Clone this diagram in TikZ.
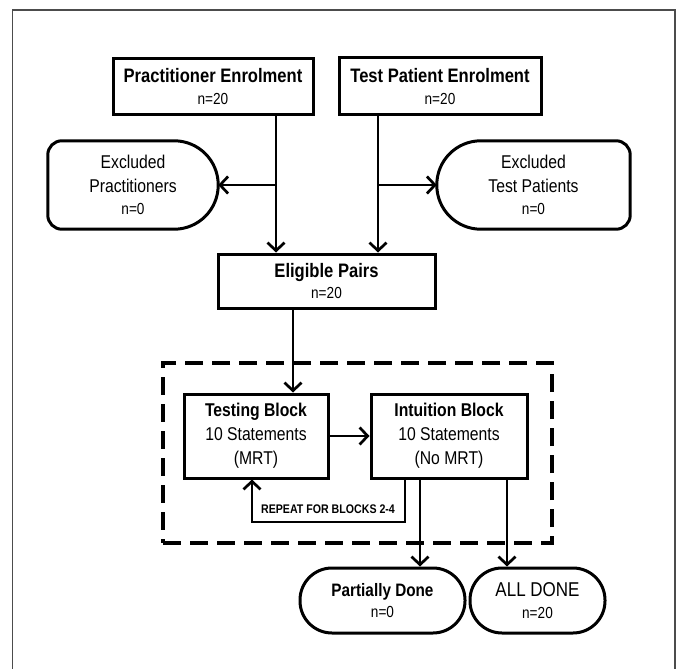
\documentclass[tikz,border=0pt]{standalone}
\usepackage{fontspec}
\setmainfont[FakeStretch=0.85]{Liberation Sans}
\usetikzlibrary{arrows.meta,calc}
\newcommand{\nline}{\fontsize{16}{18}\selectfont}
\begin{document}
\begin{tikzpicture}[x=1pt,y=-1pt,
  box/.style={draw, line width=3pt, rectangle, inner sep=0pt, align=center},
  pill/.style={box, rounded corners=32pt},
  plain/.style={inner sep=0pt, align=center},
  arr/.style={line width=2.7pt, -{Straight Barb[length=8pt,width=17pt]}},
  shapeline/.style={line width=3pt, line join=round}
]
\useasboundingbox (0,0) rectangle (681,669);
\draw[black!70, line width=1.5pt] (12.5,669) -- (12.5,10) -- (675,10) -- (675,669);

% dashed container
\node[draw, dash pattern=on 18pt off 9pt, line width=4pt, minimum width=389pt, minimum height=180pt, inner sep=0pt] (loop) at (357.5,453) {};

% top boxes
\node[box, minimum width=200pt, minimum height=56pt, font=\fontsize{19.5}{23}\selectfont] (pe) at (213,87)
  {\bfseries Practitioner Enrolment\\[-1pt]{\nline n=20}};
\node[box, minimum width=202pt, minimum height=57pt, font=\fontsize{19.5}{23}\selectfont] (tp) at (440,86.5)
  {\bfseries Test Patient Enrolment\\[-1pt]{\nline n=20}};

% excluded shapes (outline drawn separately)
\node[plain, minimum width=170pt, minimum height=88pt, font=\fontsize{18.5}{24}\selectfont] (exP) at (133,185)
  {Excluded\\Practitioners\\[-2pt]{\nline n=0}};
\draw[shapeline] (exP.north) [rounded corners=44pt] -- (exP.north east) -- (exP.south east) -- (exP.south)
  [rounded corners=14pt] -- (exP.south west) -- (exP.north west) -- (exP.north);
\node[plain, minimum width=193pt, minimum height=88pt, font=\fontsize{18.5}{24}\selectfont] (exT) at (533.5,185)
  {Excluded\\Test Patients\\[-2pt]{\nline n=0}};
\draw[shapeline] (exT.north) [rounded corners=44pt] -- (exT.north west) -- (exT.south west) -- (exT.south)
  [rounded corners=14pt] -- (exT.south east) -- (exT.north east) -- (exT.north);

% eligible
\node[box, minimum width=217pt, minimum height=54pt, font=\fontsize{19.5}{23}\selectfont] (elig) at (326.5,281)
  {\bfseries Eligible Pairs\\[-2pt]{\nline n=20}};

% blocks
\node[box, minimum width=144pt, minimum height=84pt, font=\fontsize{18.5}{24}\selectfont] (test) at (256,436)
  {\textbf{Testing Block}\\10 Statements\\(MRT)};
\node[box, minimum width=156pt, minimum height=84pt, font=\fontsize{18.5}{24}\selectfont] (intu) at (449,436)
  {\textbf{Intuition Block}\\10 Statements\\(No MRT)};

\node[plain, font=\fontsize{12.5}{14}\selectfont\bfseries] (rep) at (328,509) {REPEAT FOR BLOCKS 2-4};

% outcomes
\node[pill, minimum width=165pt, minimum height=65pt, font=\fontsize{18}{21}\selectfont] (part) at (382.5,600.5)
  {\textbf{Partially Done}\\{\nline n=0}};
\node[pill, minimum width=135pt, minimum height=65pt, font=\fontsize{20}{22}\selectfont] (done) at (537.5,600.5)
  {ALL DONE\\{\nline n=20}};

% connectors
\draw[arr] (276,0 |- pe.south) -- (276,0 |- elig.north);
\draw[arr] (276,0 |- exP.east) -- (exP.east);
\draw[arr] (378,0 |- tp.south) -- (378,0 |- elig.north);
\draw[arr] (378,0 |- exT.west) -- (exT.west);
\draw[arr] (293,0 |- elig.south) -- (293,0 |- test.north);
\draw[arr] (test.east) -- (intu.west);
\draw[arr] (405,0 |- intu.south) |- (252,522) -- (252,0 |- test.south);
\draw[arr] (420,0 |- intu.south) -- (420,0 |- part.north);
\draw[arr] (507,0 |- intu.south) -- (507,0 |- done.north);
\end{tikzpicture}
\end{document}
